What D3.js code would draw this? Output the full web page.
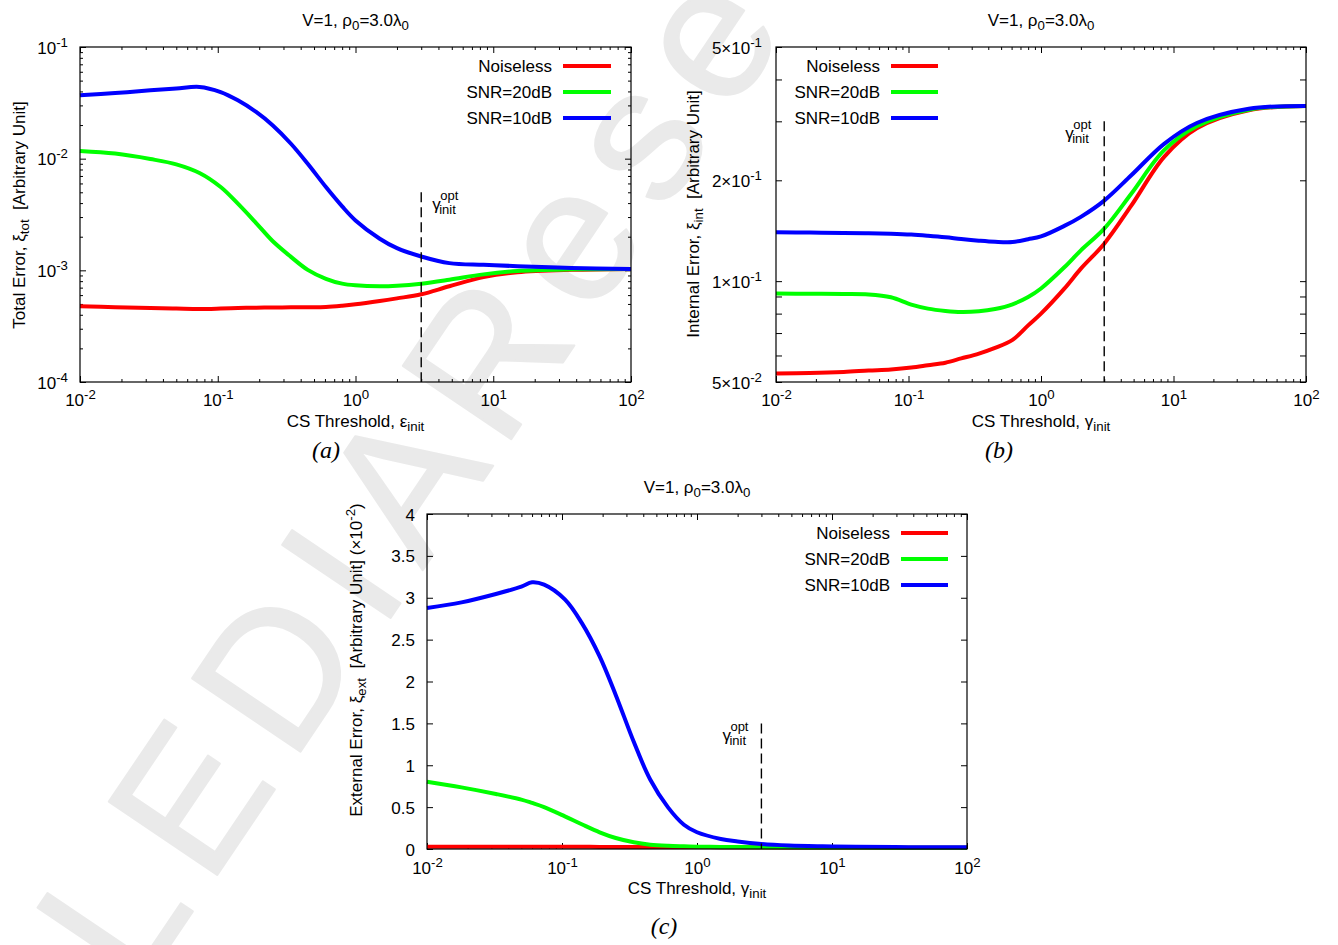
<!DOCTYPE html>
<html>
<head>
<meta charset="utf-8">
<script src="https://cdn.jsdelivr.net/npm/d3@7"></script>
<style>
  body { margin: 0; background: #ffffff; }
  svg { display: block; }
  text { font-family: "Liberation Sans", Arial, Helvetica, sans-serif; fill: #000; white-space: pre; }
</style>
</head>
<body>
<svg id="chart" width="1338" height="945"></svg>
<script>
// ---------------- data ----------------
const seriesNames = ["Noiseless", "SNR=20dB", "SNR=10dB"];
const seriesColors = ["#ff0000", "#00ff00", "#0000ff"];

const xTickValues = [0.01, 0.1, 1, 10, 100];
const xTickExponents = ["-2", "-1", "0", "1", "2"];

// panel (a): total error
const aX = [0.01, 0.018, 0.0324, 0.05, 0.0737, 0.105, 0.14, 0.19, 0.25, 0.34, 0.45, 0.61, 0.8, 1.0, 1.5, 2.0, 3.0, 4.8, 8.5, 15, 37, 100];
const aNoiseless = [0.000476, 0.000468, 0.00046, 0.000455, 0.000451, 0.000455, 0.00046, 0.000463, 0.000465, 0.000466, 0.000467, 0.00047, 0.000482, 0.000496, 0.000531, 0.000561, 0.00061, 0.00072, 0.00087, 0.00096, 0.00101, 0.00103];
const aSnr20 = [0.01172, 0.0111, 0.00993, 0.0089, 0.00744, 0.00557, 0.00395, 0.00265, 0.00183, 0.00132, 0.00101, 0.00084, 0.00076, 0.000734, 0.00072, 0.000728, 0.00076, 0.000824, 0.00092, 0.000986, 0.00102, 0.00103];
const aSnr10 = [0.0369, 0.0387, 0.0409, 0.0425, 0.0439, 0.0395, 0.0333, 0.0262, 0.0199, 0.0136, 0.0090, 0.00557, 0.00374, 0.0028, 0.00192, 0.00158, 0.00133, 0.00116, 0.00112, 0.00109, 0.00105, 0.00103];
const aYTicks = [1e-4, 1e-3, 1e-2, 1e-1];
const aYTickLabels = [["10", "-4"], ["10", "-3"], ["10", "-2"], ["10", "-1"]];

// panel (b): internal error
const bX = [0.01, 0.018, 0.0324, 0.05, 0.0737, 0.105, 0.14, 0.19, 0.25, 0.34, 0.45, 0.61, 0.8, 1.0, 1.5, 2.0, 3.0, 4.8, 8.5, 15, 37, 100];
const bNoiseless = [0.053, 0.0532, 0.0536, 0.0541, 0.0545, 0.0552, 0.0561, 0.0571, 0.0588, 0.0608, 0.0632, 0.0668, 0.0738, 0.080, 0.095, 0.109, 0.1294, 0.168, 0.235, 0.286, 0.3236, 0.3335];
const bSnr20 = [0.0918, 0.0917, 0.0916, 0.0913, 0.0895, 0.0851, 0.0828, 0.0815, 0.0809, 0.0813, 0.0826, 0.0853, 0.0897, 0.0951, 0.110, 0.1236, 0.1435, 0.1824, 0.246, 0.29, 0.325, 0.3335];
const bSnr10 = [0.140, 0.1397, 0.1393, 0.139, 0.1385, 0.1377, 0.1366, 0.1352, 0.1336, 0.1321, 0.1311, 0.1309, 0.1334, 0.136, 0.1462, 0.1556, 0.174, 0.207, 0.257, 0.2965, 0.327, 0.3335];
const bYTicks = [0.05, 0.1, 0.2, 0.5];
const bYTickLabels = [["5\u00d710", "-2"], ["1\u00d710", "-1"], ["2\u00d710", "-1"], ["5\u00d710", "-1"]];
const bYMinor = [0.06, 0.07, 0.08, 0.09, 0.3, 0.4];

// panel (c): external error (x 10^-2)
const cX = [0.01, 0.018, 0.0324, 0.05, 0.06, 0.0737, 0.105, 0.14, 0.19, 0.25, 0.34, 0.45, 0.61, 0.8, 1.0, 1.5, 2.0, 3.0, 4.8, 8.5, 15, 37, 100];
const cNoiseless = [0.028, 0.028, 0.027, 0.027, 0.027, 0.026, 0.026, 0.026, 0.025, 0.025, 0.025, 0.024, 0.024, 0.023, 0.023, 0.022, 0.021, 0.02, 0.019, 0.018, 0.017, 0.016, 0.015];
const cSnr20 = [0.804, 0.736, 0.657, 0.59, 0.55, 0.50, 0.39, 0.295, 0.199, 0.131, 0.08, 0.052, 0.038, 0.032, 0.028, 0.025, 0.023, 0.021, 0.02, 0.018, 0.017, 0.016, 0.015];
const cSnr10 = [2.878, 2.945, 3.045, 3.132, 3.184, 3.156, 2.98, 2.70, 2.30, 1.84, 1.28, 0.83, 0.497, 0.29, 0.2, 0.12, 0.09, 0.06, 0.042, 0.032, 0.026, 0.022, 0.02];
const cYTicks = [0, 0.5, 1, 1.5, 2, 2.5, 3, 3.5, 4];
const cYTickLabels = ["0", "0.5", "1", "1.5", "2", "2.5", "3", "3.5", "4"];

const gammaOpt = 3;
const optLineTop = [5e-3, 0.3, 1.5];

// ---------------- drawing ----------------
const svg = d3.select("#chart");

// watermark (behind everything)
const wm = svg.append("text")
  .attr("transform", "translate(54,1117) rotate(-56)")
  .attr("font-size", 190)
  .attr("letter-spacing", 22)
  .attr("stroke", "#eaeaea")
  .attr("stroke-width", 2)
  .attr("stroke-linejoin", "round")
  .style("fill", "#eaeaea");
wm.append("tspan").text("ELEDIA");
wm.append("tspan").attr("dx", -70).text(" Research");

function rich(textSel, parts, size) {
  let off = 0;
  parts.forEach(([s, t]) => {
    const target = t === "sub" ? 4 : t === "sup" ? -7 : 0;
    const ts = textSel.append("tspan").attr("dy", target - off).text(s);
    if (t !== "n") ts.attr("font-size", size * 0.78);
    off = target;
  });
}

const xMinor = [];
[-2, -1, 0, 1].forEach(e => { for (let k = 2; k <= 9; k++) xMinor.push(k * Math.pow(10, e)); });

function panel(cfg) {
  const g = svg.append("g");
  const x = d3.scaleLog().domain([0.01, 100]).range([cfg.left, cfg.right]);
  const y = cfg.yLog
    ? d3.scaleLog().domain(cfg.yDomain).range([cfg.bottom, cfg.top])
    : d3.scaleLinear().domain(cfg.yDomain).range([cfg.bottom, cfg.top]);

  const MAJ = 6, MIN = 3;
  const clean = sel => { sel.select(".domain").remove(); sel.selectAll("line").attr("stroke", "#000").attr("stroke-width", 1); };

  // x axis bottom major with labels
  const xb = g.append("g").attr("transform", `translate(0,${cfg.bottom})`)
    .call(d3.axisBottom(x).tickValues(xTickValues).tickSize(-MAJ).tickSizeOuter(0).tickFormat(() => ""));
  clean(xb);
  xb.selectAll(".tick text").each(function (d, i) {
    const t = d3.select(this).attr("y", cfg.xLabelOffset).attr("dy", null)
      .attr("font-size", 17).attr("fill", "#000");
    rich(t, [["10", "n"], [xTickExponents[i], "sup"]], 17);
  });
  const xbm = g.append("g").attr("transform", `translate(0,${cfg.bottom})`)
    .call(d3.axisBottom(x).tickValues(xMinor).tickSize(-MIN).tickSizeOuter(0).tickFormat(() => ""));
  clean(xbm);
  // x axis top mirrored
  const xt = g.append("g").attr("transform", `translate(0,${cfg.top})`)
    .call(d3.axisTop(x).tickValues(xTickValues).tickSize(-MAJ).tickSizeOuter(0).tickFormat(() => ""));
  clean(xt);
  const xtm = g.append("g").attr("transform", `translate(0,${cfg.top})`)
    .call(d3.axisTop(x).tickValues(xMinor).tickSize(-MIN).tickSizeOuter(0).tickFormat(() => ""));
  clean(xtm);

  // y axis left major with labels
  const yl = g.append("g").attr("transform", `translate(${cfg.left},0)`)
    .call(d3.axisLeft(y).tickValues(cfg.yTicks).tickSize(-MAJ).tickSizeOuter(0).tickFormat(() => ""));
  clean(yl);
  yl.selectAll(".tick text").each(function (d, i) {
    const t = d3.select(this).attr("x", -cfg.yLabelGap).attr("dy", null).attr("y", 6)
      .attr("font-size", 17).attr("fill", "#000").attr("text-anchor", "end");
    const lab = cfg.yTickLabels[i];
    if (Array.isArray(lab)) rich(t, [[lab[0], "n"], [lab[1], "sup"]], 17);
    else t.text(lab);
  });
  const yr = g.append("g").attr("transform", `translate(${cfg.right},0)`)
    .call(d3.axisRight(y).tickValues(cfg.yTicks).tickSize(-MAJ).tickSizeOuter(0).tickFormat(() => ""));
  clean(yr);
  if (cfg.yMinor.length) {
    const ylm = g.append("g").attr("transform", `translate(${cfg.left},0)`)
      .call(d3.axisLeft(y).tickValues(cfg.yMinor).tickSize(-cfg.yMinorLen).tickSizeOuter(0).tickFormat(() => ""));
    clean(ylm);
    const yrm = g.append("g").attr("transform", `translate(${cfg.right},0)`)
      .call(d3.axisRight(y).tickValues(cfg.yMinor).tickSize(-cfg.yMinorLen).tickSizeOuter(0).tickFormat(() => ""));
    clean(yrm);
  }

  // curves
  const line = d3.line().x(d => x(d[0])).y(d => y(d[1])).curve(d3.curveCatmullRom.alpha(0.5));
  cfg.series.forEach((vals, i) => {
    g.append("path")
      .datum(cfg.xs.map((xv, j) => [xv, vals[j]]))
      .attr("fill", "none")
      .attr("stroke", seriesColors[i])
      .attr("stroke-width", 4)
      .attr("stroke-linejoin", "round")
      .attr("d", line);
  });

  // frame
  g.append("rect").attr("x", cfg.left).attr("y", cfg.top)
    .attr("width", cfg.right - cfg.left).attr("height", cfg.bottom - cfg.top)
    .attr("fill", "none").attr("stroke", "#000").attr("stroke-width", 1.2);

  // optimal threshold dashed line
  const ox = x(gammaOpt), oTop = y(cfg.optTop);
  g.append("line").attr("x1", ox).attr("x2", ox).attr("y1", oTop).attr("y2", cfg.bottom)
    .attr("stroke", "#000").attr("stroke-width", 1.4).attr("stroke-dasharray", "10,5");
  const gx = cfg.optSide === "right" ? ox + 11 : ox - 39;
  const ot = g.append("text").attr("font-size", 17);
  ot.append("tspan").attr("x", gx).attr("y", oTop + 18).text("\u03b3");
  ot.append("tspan").attr("x", gx + 8).attr("y", oTop + 8).attr("font-size", 13).text("opt");
  ot.append("tspan").attr("x", gx + 7).attr("y", oTop + 22).attr("font-size", 13).text("init");

  // legend
  cfg.series.forEach((vals, i) => {
    const ry = cfg.legend.rows[i];
    g.append("text").attr("x", cfg.legend.textRight).attr("y", ry + 6)
      .attr("text-anchor", "end").attr("font-size", 17).text(seriesNames[i]);
    g.append("line").attr("x1", cfg.legend.x1).attr("x2", cfg.legend.x2)
      .attr("y1", ry).attr("y2", ry).attr("stroke", seriesColors[i]).attr("stroke-width", 4);
  });

  const cx = (cfg.left + cfg.right) / 2;
  // title
  const tt = g.append("text").attr("x", cx).attr("y", cfg.titleY).attr("text-anchor", "middle").attr("font-size", 17);
  rich(tt, [["V=1, \u03c1", "n"], ["0", "sub"], ["=3.0\u03bb", "n"], ["0", "sub"]], 17);
  // x label
  const xlab = g.append("text").attr("x", cx).attr("y", cfg.bottom + 45).attr("text-anchor", "middle").attr("font-size", 17);
  rich(xlab, cfg.xTitle, 17);
  // y label
  const ylab = g.append("text")
    .attr("transform", `translate(${cfg.yTitlePos[0]},${cfg.yTitlePos[1]}) rotate(-90)`)
    .attr("text-anchor", "middle").attr("font-size", 17);
  rich(ylab, cfg.yTitle, 17);
  // caption
  g.append("text").attr("x", cfg.caption[1]).attr("y", cfg.caption[2])
    .attr("text-anchor", "middle").attr("font-size", 24)
    .style("font-family", '"Liberation Serif", "Times New Roman", serif')
    .style("font-style", "italic").text(cfg.caption[0]);
}

const aYMinor = [];
[-4, -3, -2].forEach(e => { for (let k = 2; k <= 9; k++) aYMinor.push(k * Math.pow(10, e)); });

panel({
  left: 80, right: 631, top: 47, bottom: 382,
  yLog: true, yDomain: [1e-4, 1e-1], yTicks: aYTicks, yTickLabels: aYTickLabels,
  yMinor: aYMinor, yMinorLen: 3, yLabelGap: 12,
  xs: aX, series: [aNoiseless, aSnr20, aSnr10],
  xLabelOffset: 24, titleY: 26,
  optTop: optLineTop[0], optSide: "right",
  legend: { textRight: 552, x1: 563, x2: 611, rows: [66, 92, 118] },
  xTitle: [["CS Threshold, \u03b5", "n"], ["init", "sub"]],
  yTitle: [["Total Error, \u03be", "n"], ["tot", "sub"], ["  [Arbitrary Unit]", "n"]],
  yTitlePos: [25, 215],
  caption: ["(a)", 326, 458]
});

panel({
  left: 776, right: 1306, top: 47, bottom: 382,
  yLog: true, yDomain: [0.05, 0.5], yTicks: bYTicks, yTickLabels: bYTickLabels,
  yMinor: bYMinor, yMinorLen: 6, yLabelGap: 14,
  xs: bX, series: [bNoiseless, bSnr20, bSnr10],
  xLabelOffset: 24, titleY: 26,
  optTop: optLineTop[1], optSide: "left",
  legend: { textRight: 880, x1: 891, x2: 938, rows: [66, 92, 118] },
  xTitle: [["CS Threshold, \u03b3", "n"], ["init", "sub"]],
  yTitle: [["Internal Error, \u03be", "n"], ["int", "sub"], ["  [Arbitrary Unit]", "n"]],
  yTitlePos: [699, 214],
  caption: ["(b)", 999, 458]
});

panel({
  left: 427, right: 967, top: 514, bottom: 849,
  yLog: false, yDomain: [0, 4], yTicks: cYTicks, yTickLabels: cYTickLabels,
  yMinor: [], yMinorLen: 3, yLabelGap: 12,
  xs: cX, series: [cNoiseless, cSnr20, cSnr10],
  xLabelOffset: 25, titleY: 493,
  optTop: optLineTop[2], optSide: "left",
  legend: { textRight: 890, x1: 901, x2: 948, rows: [533, 559, 585] },
  xTitle: [["CS Threshold, \u03b3", "n"], ["init", "sub"]],
  yTitle: [["External Error, \u03be", "n"], ["ext", "sub"], ["  [Arbitrary Unit] (\u00d710", "n"], ["-2", "sup"], [")", "n"]],
  yTitlePos: [362, 660],
  caption: ["(c)", 664, 934]
});
</script>
</body>
</html>
